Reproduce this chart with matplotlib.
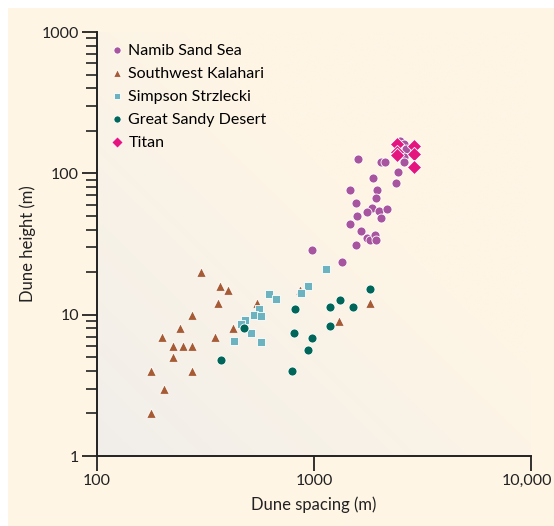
import matplotlib
matplotlib.use("Agg")
import matplotlib.pyplot as plt
import numpy as np
from matplotlib.colors import LinearSegmentedColormap
from matplotlib.patches import Rectangle
from matplotlib.transforms import ScaledTranslation

plt.rcParams["font.family"] = ["Lato", "DejaVu Sans"]

# Dune spacing (m) / dune height (m)
namib_x = [980, 1345, 1600, 2045, 2125, 1865, 2430, 2390, 1470, 1945, 1925, 1565, 1860,
           1760, 1990, 2160, 2030, 1585, 1470, 1640, 1750, 1820, 1905, 1925, 1560,
           2500, 2400, 2610, 2665, 2400, 2610, 2610]
namib_y = [28.6, 23.7, 127, 120, 121, 93, 102, 86, 76, 76, 67, 62, 57,
           53, 54, 55.6, 48, 50, 44, 39, 35, 33.5, 36.6, 33.5, 31,
           170, 161, 161, 148, 140, 130, 121]

kalahari_x = [300, 370, 400, 360, 545, 275, 240, 200, 425, 350, 225, 250, 275,
              225, 177, 275, 203, 177, 860, 1810, 1300]
kalahari_y = [20, 16, 15, 12, 12, 10, 8, 7, 8, 7, 6, 6, 6,
              5, 4, 4, 3, 2, 15, 12, 9]

simpson_x = [620, 665, 560, 530, 570, 480, 460, 510, 430, 570, 1130, 940, 870]
simpson_y = [14, 13, 11, 10, 9.8, 9.2, 8.6, 7.4, 6.5, 6.4, 21, 16, 14.3]

sandy_x = [475, 373, 795, 805, 820, 940, 980, 1180, 1180, 1320, 1520, 1810]
sandy_y = [8, 4.75, 4, 7.4, 11, 5.6, 6.8, 11.3, 8.3, 12.7, 11.3, 15.3]

titan_x = [2415, 2890, 2415, 2415, 2890, 2890]
titan_y = [160, 157, 142, 135, 136, 110]

cream = "#FEF5E5"

fig = plt.figure(figsize=(5.54, 5.26), dpi=100)
fig.patch.set_facecolor("white")
fig.patches.append(Rectangle((8 / 554, 0), 1, 1 - 8 / 526, transform=fig.transFigure,
                             facecolor=cream, edgecolor="none", zorder=-10))

ax = fig.add_axes([97 / 554, 1 - 456 / 526, (531 - 97) / 554, (456 - 32) / 526])
ax.set_facecolor(cream)

# faint diagonal shading in the plot area
g = np.linspace(0, 1, 200)
gx, gy = np.meshgrid(g, g)
grad = np.clip((gx + gy) / 1.2, 0, 1)
cmap = LinearSegmentedColormap.from_list("shade", ["#F1EEEA", cream])
ax.imshow(grad, extent=[0, 1, 0, 1], origin="lower", transform=ax.transAxes,
          cmap=cmap, aspect="auto", zorder=0)

kw = dict(edgecolors="white", linewidths=0.6, zorder=3)
ax.scatter(namib_x, namib_y, s=42, marker="o", color="#A8559F", label="Namib Sand Sea", **kw)
ax.scatter(kalahari_x, kalahari_y, s=48, marker="^", color="#A65B34", label="Southwest Kalahari", **kw)
ax.scatter(simpson_x, simpson_y, s=38, marker="s", color="#6DB3BF", label="Simpson Strzlecki", **kw)
ax.scatter(sandy_x, sandy_y, s=42, marker="o", color="#006659", label="Great Sandy Desert", **kw)
ax.scatter(titan_x, titan_y, s=52, marker="D", color="#E5157F", label="Titan", **kw)

ax.set_xscale("log")
ax.set_yscale("log")
ax.set_xlim(100, 10000)
ax.set_ylim(1, 1000)

ax.set_xticks([100, 1000, 10000])
ax.set_xticklabels(["100", "1000", "10,000"])
ax.xaxis.set_minor_locator(matplotlib.ticker.NullLocator())
ax.set_yticks([1, 10, 100, 1000])
ax.set_yticklabels(["1", "10", "100", "1000"])

for side in ["top", "right"]:
    ax.spines[side].set_visible(False)
for side in ["left", "bottom"]:
    ax.spines[side].set_linewidth(1.4)
    ax.spines[side].set_color("#222222")

ax.tick_params(axis="both", which="major", direction="out", length=11, width=1.3,
               labelsize=11.5, colors="#222222", pad=2)
ax.tick_params(axis="y", which="minor", direction="out", length=8, width=1.2, colors="#222222")

# keep the last x label inside the picture
last = ax.get_xticklabels()[-1]
last.set_transform(last.get_transform() + ScaledTranslation(-4 / 100, 0, fig.dpi_scale_trans))

ax.set_xlabel("Dune spacing (m)", fontsize=12, color="#222222", labelpad=6)
ax.set_ylabel("Dune height (m)", fontsize=12, color="#222222", labelpad=4)

ax.legend(loc="upper left", bbox_to_anchor=(0.01, 0.988), frameon=False, fontsize=11.5,
          handlelength=1.2, handletextpad=0.1, labelspacing=0.55, markerscale=0.8,
          borderaxespad=0)

fig.savefig("out.png", dpi=100, facecolor=fig.get_facecolor())
